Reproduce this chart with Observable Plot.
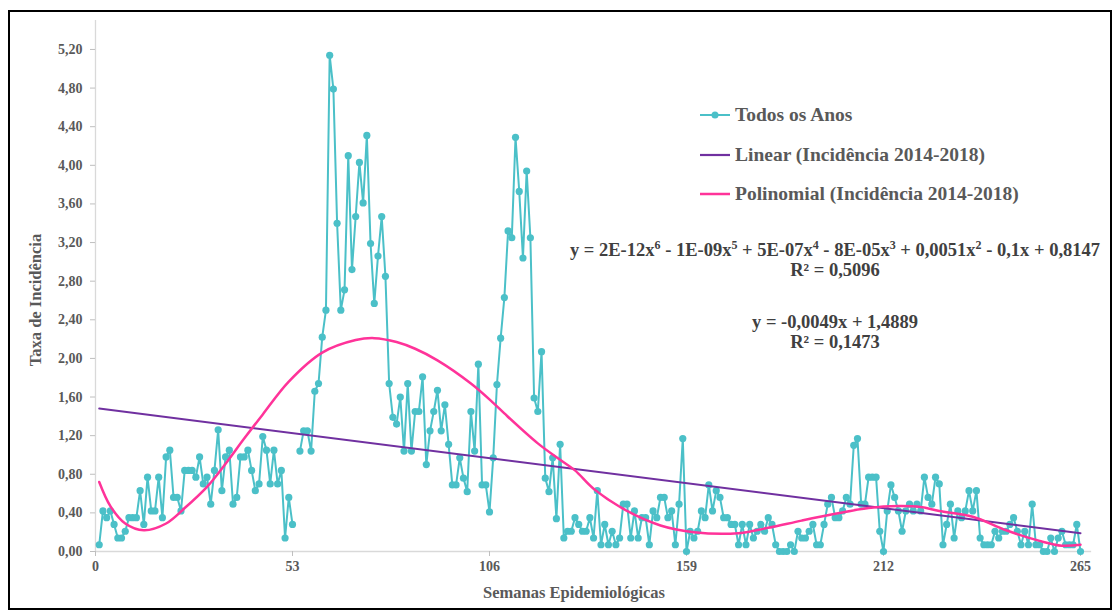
<!DOCTYPE html>
<html><head><meta charset="utf-8">
<script src="https://cdn.jsdelivr.net/npm/d3@7"></script>
<script src="https://cdn.jsdelivr.net/npm/@observablehq/plot@0.6"></script>
<style>
body{margin:0;background:#fff;}
#wrap{position:relative;width:1117px;height:610px;overflow:hidden;font-family:"Liberation Serif","Times New Roman",serif;font-weight:bold;}
#frame{position:absolute;left:8px;top:10px;width:1100px;height:596px;border:2px solid #000;pointer-events:none;}
.lg{position:absolute;left:700px;height:22px;display:flex;align-items:center;color:#595959;font-size:19.5px;white-space:nowrap;transform:translateY(-50%);}
.lg svg{margin-right:3px;}
.eq{position:absolute;width:700px;left:485px;text-align:center;color:#404040;font-size:18.5px;white-space:nowrap;transform:translateY(-50%);}
.eq sup{font-size:12px;vertical-align:7px;line-height:0;}
#ylab{position:absolute;left:36px;top:300px;transform:translate(-50%,-50%) rotate(-90deg);color:#595959;font-size:16.5px;white-space:nowrap;}
#xlab{position:absolute;left:574px;top:593px;transform:translate(-50%,-50%);color:#595959;font-size:16.5px;white-space:nowrap;}
</style></head>
<body>
<div id="wrap">
  <div id="chart"></div>
  <div id="frame"></div>
  <div class="lg" style="top:115px"><svg width="32" height="10"><line x1="0" y1="5" x2="30" y2="5" stroke="#4bc0c8" stroke-width="2"/><circle cx="15" cy="5" r="3.5" fill="#4bc0c8"/></svg>Todos os Anos</div>
  <div class="lg" style="top:155px"><svg width="32" height="10"><line x1="0" y1="5" x2="30" y2="5" stroke="#7030a0" stroke-width="2.2"/></svg>Linear (Incidência 2014-2018)</div>
  <div class="lg" style="top:194px"><svg width="32" height="10"><line x1="0" y1="5" x2="30" y2="5" stroke="#ff3399" stroke-width="2.5"/></svg>Polinomial (Incidência 2014-2018)</div>
  <div class="eq" style="top:250px">y = 2E-12x<sup>6</sup> - 1E-09x<sup>5</sup> + 5E-07x<sup>4</sup> - 8E-05x<sup>3</sup> + 0,0051x<sup>2</sup> - 0,1x + 0,8147</div>
  <div class="eq" style="top:270px">R² = 0,5096</div>
  <div class="eq" style="top:322px">y = -0,0049x + 1,4889</div>
  <div class="eq" style="top:342px">R² = 0,1473</div>
  <div id="ylab">Taxa de Incidência</div>
  <div id="xlab">Semanas Epidemiológicas</div>
</div>
<script>
const semanas = d3.range(1, 266);
const incidencia = [
  0.07, 0.42, 0.35, 0.42, 0.28, 0.14, 0.14, 0.21, 0.35, 0.35,
  0.35, 0.63, 0.28, 0.77, 0.42, 0.42, 0.77, 0.35, 0.98, 1.05,
  0.56, 0.56, 0.42, 0.84, 0.84, 0.84, 0.77, 0.98, 0.70, 0.77,
  0.49, 0.84, 1.26, 0.63, 0.98, 1.05, 0.49, 0.56, 0.98, 0.98,
  1.05, 0.84, 0.63, 0.70, 1.19, 1.05, 0.70, 1.05, 0.70, 0.84,
  0.14, 0.56, 0.28, null, 1.04, 1.25, 1.25, 1.04, 1.66, 1.74,
  2.22, 2.50, 5.14, 4.79, 3.40, 2.50, 2.71, 4.10, 2.92, 3.47,
  4.03, 3.61, 4.31, 3.19, 2.57, 3.06, 3.47, 2.85, 1.74, 1.39,
  1.32, 1.60, 1.04, 1.74, 1.04, 1.45, 1.45, 1.81, 0.90, 1.25,
  1.45, 1.67, 1.25, 1.52, 1.11, 0.69, 0.69, 0.97, 0.76, 0.62,
  1.45, 1.04, 1.94, 0.69, 0.69, 0.41, 0.97, 1.73, 2.21, 2.63,
  3.32, 3.25, 4.29, 3.73, 3.04, 3.94, 3.25, 1.59, 1.45, 2.07,
  0.76, 0.62, 0.97, 0.34, 1.11, 0.14, 0.21, 0.21, 0.35, 0.28,
  0.21, 0.21, 0.35, 0.14, 0.63, 0.07, 0.28, 0.07, 0.21, 0.07,
  0.14, 0.49, 0.49, 0.14, 0.42, 0.14, 0.35, 0.35, 0.07, 0.42,
  0.35, 0.56, 0.56, 0.35, 0.42, 0.07, 0.49, 1.17, 0.00, 0.21,
  0.14, 0.21, 0.42, 0.35, 0.69, 0.42, 0.63, 0.56, 0.35, 0.35,
  0.28, 0.28, 0.07, 0.28, 0.07, 0.28, 0.14, 0.21, 0.28, 0.21,
  0.35, 0.28, 0.07, 0.00, 0.00, 0.00, 0.07, 0.00, 0.21, 0.14,
  0.14, 0.21, 0.28, 0.07, 0.07, 0.28, 0.49, 0.56, 0.35, 0.35,
  0.42, 0.56, 0.49, 1.10, 1.17, 0.49, 0.49, 0.77, 0.77, 0.77,
  0.21, 0.00, 0.42, 0.69, 0.56, 0.42, 0.21, 0.42, 0.49, 0.42,
  0.49, 0.42, 0.77, 0.56, 0.49, 0.77, 0.70, 0.07, 0.28, 0.49,
  0.14, 0.42, 0.35, 0.42, 0.63, 0.42, 0.63, 0.14, 0.07, 0.07,
  0.07, 0.21, 0.14, 0.21, 0.21, 0.28, 0.35, 0.21, 0.07, 0.21,
  0.07, 0.49, 0.07, 0.07, 0.00, 0.00, 0.14, 0.00, 0.14, 0.21,
  0.07, 0.07, 0.07, 0.28, 0.00
];
const xTicks = [0, 53, 106, 159, 212, 265];
const yTicks = [0, 0.4, 0.8, 1.2, 1.6, 2.0, 2.4, 2.8, 3.2, 3.6, 4.0, 4.4, 4.8, 5.2];
const linearSemanas = [1, 265];
const linearTaxa = [1.48, 0.19];
const polySemanas = [1, 4, 8, 13, 19, 24, 30, 35, 40, 45, 52, 61, 70, 75, 81, 86, 92, 101, 107, 110, 119, 125, 129, 134, 143, 152, 161, 173, 181, 190, 199, 208, 216, 222, 227, 236, 245, 254, 260, 265];
const polyTaxa = [0.72, 0.47, 0.29, 0.22, 0.29, 0.45, 0.67, 0.91, 1.17, 1.42, 1.76, 2.06, 2.19, 2.21, 2.17, 2.10, 1.98, 1.74, 1.54, 1.43, 1.12, 0.95, 0.84, 0.65, 0.42, 0.27, 0.20, 0.19, 0.245, 0.32, 0.39, 0.45, 0.47, 0.46, 0.42, 0.36, 0.22, 0.11, 0.06, 0.07];

const teal = "#4bc0c8", purple = "#7030a0", pink = "#ff3399";
const serie = semanas.map((s, i) => ({semana: s, taxa: incidencia[i]}));
const linear = linearSemanas.map((s, i) => ({semana: s, taxa: linearTaxa[i]}));
const poly = polySemanas.map((s, i) => ({semana: s, taxa: polyTaxa[i]}));

const chart = Plot.plot({
  width: 1117, height: 610,
  marginLeft: 95, marginRight: 37, marginTop: 20, marginBottom: 59,
  style: {fontFamily: "'Liberation Serif', serif", fontWeight: "bold", fontSize: "14px", background: "transparent", overflow: "visible"},
  x: {domain: [0, 265]},
  y: {domain: [0, 5.5]},
  marks: [
    Plot.ruleY([0], {x1: 0, x2: 268, stroke: "#d9d9d9", strokeWidth: 1.3}),
    Plot.ruleX([0], {y1: 0, y2: 5.5, stroke: "#d9d9d9", strokeWidth: 1.3}),
    Plot.axisX({ticks: xTicks, tickSize: 5, tickPadding: 5, stroke: "#bfbfbf", fill: "#595959", label: null, tickFormat: d => String(d)}),
    Plot.axisY({ticks: yTicks, tickSize: 5, tickPadding: 8, stroke: "#bfbfbf", fill: "#595959", label: null, tickFormat: d => d.toFixed(2).replace(".", ",")}),
    Plot.line(serie, {x: "semana", y: "taxa", stroke: teal, strokeWidth: 2}),
    Plot.dot(serie, {x: "semana", y: "taxa", r: 3.6, fill: teal, stroke: null}),
    Plot.line(linear, {x: "semana", y: "taxa", stroke: purple, strokeWidth: 2}),
    Plot.line(poly, {x: "semana", y: "taxa", stroke: pink, strokeWidth: 2.5, curve: "catmull-rom"})
  ]
});
document.getElementById("chart").appendChild(chart);
</script>
</body></html>
